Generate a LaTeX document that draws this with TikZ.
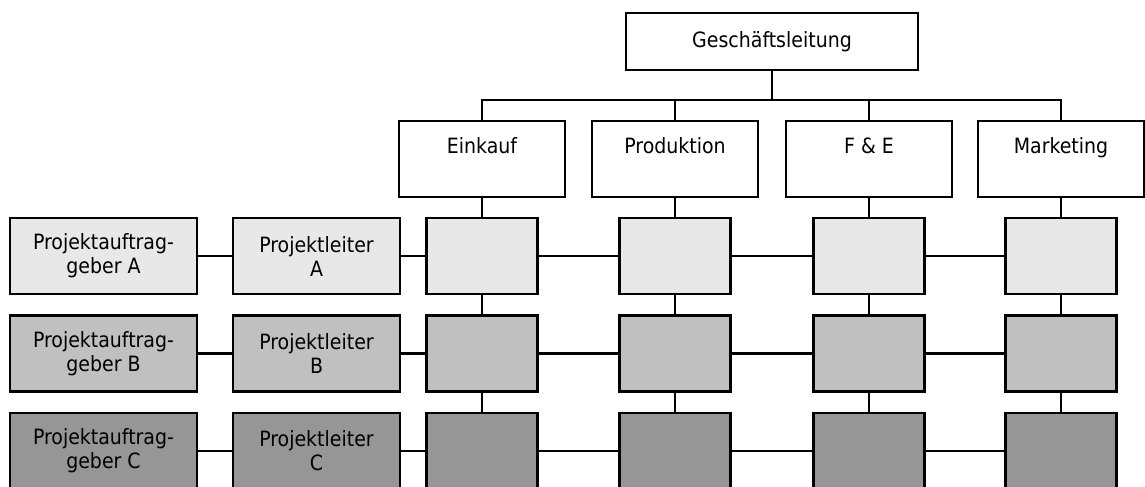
\documentclass[tikz,border=0pt]{standalone}
\usepackage{fontspec}
\setmainfont{DejaVu Sans Condensed}
\definecolor{rowA}{HTML}{E8E8E8}
\definecolor{rowB}{HTML}{C0C0C0}
\definecolor{rowC}{HTML}{969696}
\begin{document}
\begin{tikzpicture}[x=0.75pt,y=-0.75pt,
  box/.style={draw=black, line width=2.2pt, inner sep=0pt, align=center,
    minimum height=57pt, font=\fontsize{15.8}{18}\selectfont},
  topbox/.style={box, fill=white, minimum width=219pt, minimum height=42.75pt},
  deptbox/.style={box, fill=white, minimum width=124.5pt,
    text height=12pt, text depth=21pt},
  sponsorbox/.style={box, minimum width=140.25pt},
  leaderbox/.style={box, minimum width=125.25pt},
  cellbox/.style={box, minimum width=83.25pt},
  link/.style={draw=black, line width=2.1pt}]
\useasboundingbox (0,0) rectangle (1145,486);
\clip (0,0) rectangle (1145,486);

% management and departments
\node[topbox] (gl) at (772,41.5) {Geschäftsleitung};
\coordinate (bus) at (0,100);
\node[deptbox] (d1) at (482,159) {Einkauf};
\node[deptbox] (d2) at (675,159) {Produktion};
\node[deptbox] (d3) at (869,159) {F \& E};
\node[deptbox] (d4) at (1061,159) {Marketing};
\foreach \c in {1,...,4}
  \draw[link] (gl.south) -- (gl.south |- bus) -| (d\c.north);

% project rows
\foreach \r/\y/\col/\lab in {1/256/rowA/A, 2/353.5/rowB/B, 3/451/rowC/C} {
  \node[sponsorbox, fill=\col] (s\r) at (103.5,\y) {Projektauftrag-\\geber \lab};
  \node[leaderbox, fill=\col] (l\r) at (316.5,\y) {Projektleiter\\\lab};
  \node[cellbox, fill=\col] (c\r-1) at (482,\y) {};
  \node[cellbox, fill=\col] (c\r-2) at (675,\y) {};
  \node[cellbox, fill=\col] (c\r-3) at (869,\y) {};
  \node[cellbox, fill=\col] (c\r-4) at (1061,\y) {};
  \draw[link] (s\r) -- (l\r);
  \draw[link] (l\r) -- (c\r-1);
  \draw[link] (c\r-1) -- (c\r-2);
  \draw[link] (c\r-2) -- (c\r-3);
  \draw[link] (c\r-3) -- (c\r-4);
}

% vertical links between departments and rows
\foreach \c in {1,...,4} {
  \draw[link] (d\c) -- (c1-\c);
  \draw[link] (c1-\c) -- (c2-\c);
  \draw[link] (c2-\c) -- (c3-\c);
}
\end{tikzpicture}
\end{document}
